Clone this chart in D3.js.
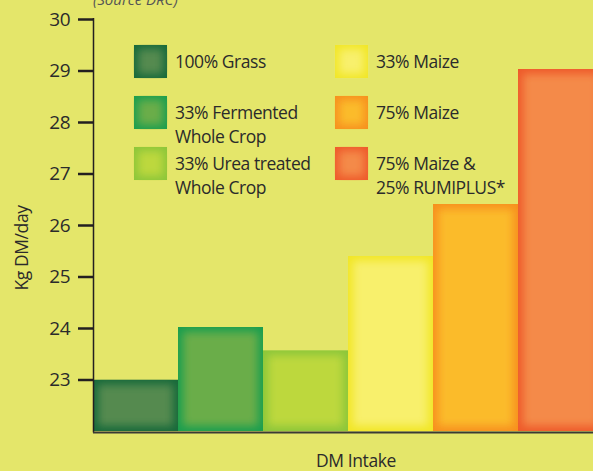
<!DOCTYPE html>
<html>
<head>
<meta charset="utf-8">
<script src="https://cdn.jsdelivr.net/npm/d3@7"></script>
<style>
  html, body { margin: 0; padding: 0; background: #e4e66a; overflow: hidden; }
  text { font-family: "Open Sans", sans-serif; fill: #2b2b2b; }
</style>
</head>
<body>
<div id="chart"></div>
<script>
// data
const categories = ["100% Grass", "33% Fermented Whole Crop", "33% Urea treated Whole Crop",
    "33% Maize", "75% Maize", "75% Maize & 25% RUMIPLUS*"];
const values = [23.0, 24.02, 23.57, 25.4, 26.41, 29.03];
const legendLines = [["100% Grass"], ["33% Fermented", "Whole Crop"], ["33% Urea treated", "Whole Crop"],
    ["33% Maize"], ["75% Maize"], ["75% Maize &", "25% RUMIPLUS*"]];
const edgeColors = ["#17693a", "#1a9e4e", "#8cc63a", "#f1e626", "#f7901e", "#ee5a2a"];
const centerColors = ["#558a4f", "#6aad48", "#bdd83c", "#f8f06c", "#fbbb2a", "#f48a48"];
const yTicks = [23, 24, 25, 26, 27, 28, 29, 30];

const chart = {width: 593, height: 471};

const svg = d3.select("#chart").append("svg")
    .attr("width", chart.width)
    .attr("height", chart.height);

const defs = svg.append("defs");
defs.append("filter").attr("id", "soft")
    .attr("x", "-20%").attr("y", "-20%").attr("width", "140%").attr("height", "140%")
    .append("feGaussianBlur").attr("stdDeviation", 4);

const y = d3.scaleLinear().domain([22, 30]).range([431, 19]);
const x = d3.scaleBand().domain(categories).range([93, 603]).padding(0);

// bars: edge colour underneath, blurred centre colour inset on top
const bars = svg.append("g").selectAll("g").data(categories).join("g");
bars.each(function (c, i) {
    const g = d3.select(this);
    const x0 = x(c), w = x.bandwidth(), y0 = y(values[i]), h = y(22) - y0;
    defs.append("clipPath").attr("id", "clip" + i)
        .append("rect").attr("x", x0).attr("y", y0).attr("width", w).attr("height", h);
    const inner = g.append("g").attr("clip-path", `url(#clip${i})`);
    inner.append("rect").attr("x", x0).attr("y", y0).attr("width", w).attr("height", h)
        .attr("fill", edgeColors[i]);
    inner.append("rect").attr("x", x0 + 5).attr("y", y0 + 5).attr("width", w - 10).attr("height", h - 10)
        .attr("fill", centerColors[i]).attr("filter", "url(#soft)");
});

// y axis
const yAxis = svg.append("g")
    .attr("transform", `translate(${x.range()[0]},0)`)
    .call(d3.axisLeft(y).tickValues(yTicks).tickSize(15).tickPadding(8).tickFormat(d3.format("d")));
yAxis.select(".domain").remove();
yAxis.selectAll(".tick line").attr("stroke", "#231f20").attr("stroke-width", 2.5);
yAxis.selectAll(".tick text").attr("font-size", 19).attr("fill", "#2b2b2b")
    .attr("font-family", "Open Sans, sans-serif").attr("letter-spacing", -0.5);
svg.append("line").attr("x1", 93.5).attr("x2", 93.5).attr("y1", 18).attr("y2", 432.5)
    .attr("stroke", "#231f20").attr("stroke-width", 1.5);
svg.append("line").attr("x1", 93).attr("x2", 593).attr("y1", 432.5).attr("y2", 432.5)
    .attr("stroke", "#3a3a35").attr("stroke-width", 2);

// titles
svg.append("text").attr("transform", "translate(28,248) rotate(-90)")
    .attr("text-anchor", "middle").attr("font-size", 17.5).attr("letter-spacing", -0.4).text("Kg DM/day");
svg.append("text").attr("x", 356).attr("y", 467)
    .attr("text-anchor", "middle").attr("font-size", 17.5).attr("letter-spacing", -0.4).text("DM Intake");
svg.append("text").attr("x", 93).attr("y", 5)
    .attr("font-size", 15).attr("font-style", "italic").style("fill", "#555").text("(Source DRC)");

// legend
const legendPos = [[134, 45], [134, 96], [134, 147], [335, 45], [335, 96], [335, 147]];
const legend = svg.append("g").selectAll("g").data(legendLines).join("g")
    .attr("transform", (d, i) => `translate(${legendPos[i][0]},${legendPos[i][1]})`);
legend.append("rect").attr("width", 33).attr("height", 33)
    .attr("fill", (d, i) => edgeColors[i]);
legend.append("rect").attr("x", 4).attr("y", 4).attr("width", 25).attr("height", 25)
    .attr("fill", (d, i) => centerColors[i]).attr("filter", "url(#soft)");
legend.append("text").attr("x", 41).attr("y", 23).attr("font-size", 17.5).attr("letter-spacing", -0.45)
    .selectAll("tspan").data(d => d).join("tspan")
    .attr("x", 41).attr("dy", (d, j) => j === 0 ? 0 : 24).text(d => d);
</script>
</body>
</html>
